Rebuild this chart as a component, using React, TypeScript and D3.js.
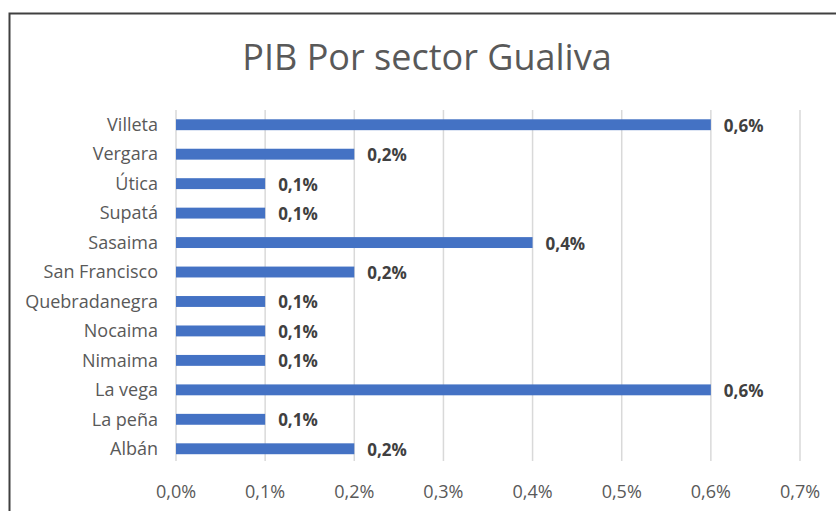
import React, { useEffect, useRef } from 'react';
import * as d3 from 'd3';

// Data
const categories = ['Villeta', 'Vergara', 'Útica', 'Supatá', 'Sasaima', 'San Francisco', 'Quebradanegra', 'Nocaima', 'Nimaima', 'La vega', 'La peña', 'Albán'];
const values = [0.6, 0.2, 0.1, 0.1, 0.4, 0.2, 0.1, 0.1, 0.1, 0.6, 0.1, 0.2];
const ticks = [0, 0.1, 0.2, 0.3, 0.4, 0.5, 0.6, 0.7];
const title = 'PIB Por sector Gualiva';

const fmt = (v: number) => v.toFixed(1).replace('.', ',') + '%';

const App = () => {
    const svgRef = useRef<SVGSVGElement | null>(null);

    useEffect(() => {
        const svg = d3.select(svgRef.current);
        svg.selectAll('*').remove();

        const width = 836;
        const height = 511;
        const font = 'Open Sans, Noto Sans, sans-serif';

        svg.attr('width', width).attr('height', height);

        // background + chart border (left and top visible only)
        svg.append('rect').attr('width', width).attr('height', height).attr('fill', '#fff');
        svg.append('path')
            .attr('d', `M9.5,${height} L9.5,13.5 L${width},13.5`)
            .attr('fill', 'none')
            .attr('stroke', '#404040')
            .attr('stroke-width', 2);

        // Scales
        const x = d3.scaleLinear().domain([0, 0.7]).range([176, 800]);
        const y = d3.scaleBand()
            .domain(categories)
            .range([110, 463.5])
            .paddingInner(0.63)
            .paddingOuter(0.315);

        // Title
        svg.append('text')
            .attr('x', 427)
            .attr('y', 70)
            .attr('text-anchor', 'middle')
            .style('font-family', font)
            .style('font-size', '36px')
            .style('fill', '#595959')
            .text(title);

        // Gridlines
        svg.append('g')
            .selectAll('line')
            .data(ticks)
            .enter()
            .append('line')
            .attr('x1', d => x(d))
            .attr('x2', d => x(d))
            .attr('y1', 110)
            .attr('y2', 461)
            .attr('stroke', '#d9d9d9')
            .attr('stroke-width', 1.5);

        // Bars
        svg.append('g')
            .selectAll('rect')
            .data(values)
            .enter()
            .append('rect')
            .attr('x', x(0))
            .attr('y', (d, i) => y(categories[i])!)
            .attr('width', d => x(d) - x(0))
            .attr('height', y.bandwidth())
            .attr('fill', '#4472c4');

        // Data labels
        svg.append('g')
            .selectAll('text')
            .data(values)
            .enter()
            .append('text')
            .attr('x', d => x(d) + 13)
            .attr('y', (d, i) => y(categories[i])! + y.bandwidth() / 2 + 1)
            .attr('dy', '0.35em')
            .style('font-family', font)
            .style('font-size', '17px')
            .style('font-weight', 'bold')
            .style('fill', '#404040')
            .text(d => fmt(d));

        // Category axis labels
        svg.append('g')
            .selectAll('text')
            .data(categories)
            .enter()
            .append('text')
            .attr('x', 158)
            .attr('y', d => y(d)! + y.bandwidth() / 2)
            .attr('dy', '0.35em')
            .attr('text-anchor', 'end')
            .style('font-family', font)
            .style('font-size', '18px')
            .style('fill', '#595959')
            .text(d => d);

        // Value axis labels
        svg.append('g')
            .selectAll('text')
            .data(ticks)
            .enter()
            .append('text')
            .attr('x', d => x(d))
            .attr('y', 492)
            .attr('dy', '0.35em')
            .attr('text-anchor', 'middle')
            .style('font-family', font)
            .style('font-size', '18px')
            .style('fill', '#595959')
            .text(d => fmt(d));
    }, []);

    return (
        <svg ref={svgRef} style={{ position: 'absolute', left: 0, top: 0, display: 'block' }}></svg>
    );
};

export default App;
